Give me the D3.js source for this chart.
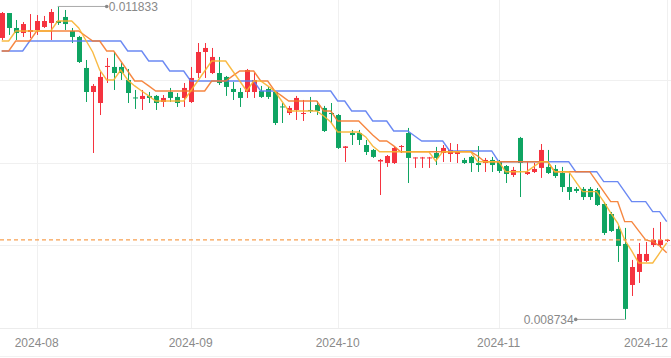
<!DOCTYPE html>
<html><head><meta charset="utf-8">
<script src="https://cdn.jsdelivr.net/npm/d3@7"></script>
<style>html,body{margin:0;padding:0;background:#fff;}svg{display:block;font-family:"Liberation Sans",Arial,sans-serif;}</style>
</head><body><svg id="c" width="671" height="358"></svg>
<script>
const openV=[0.011521,0.011768,0.011620,0.011570,0.011580,0.011600,0.011630,0.011669,0.011689,0.011729,0.011590,0.011531,0.011224,0.010986,0.010877,0.011234,0.011234,0.011234,0.011105,0.010932,0.010917,0.010947,0.010947,0.010887,0.010986,0.010937,0.010927,0.010887,0.011174,0.011382,0.011174,0.011174,0.011135,0.011016,0.010986,0.010986,0.010986,0.010996,0.011016,0.010986,0.010843,0.010778,0.010808,0.010768,0.010808,0.010857,0.010828,0.010778,0.010758,0.010432,0.010580,0.010580,0.010461,0.010412,0.010298,0.010283,0.010283,0.010442,0.010580,0.010328,0.010328,0.010328,0.010382,0.010382,0.010372,0.010372,0.010313,0.010343,0.010283,0.010283,0.010313,0.010293,0.010253,0.010164,0.010531,0.010174,0.010194,0.010234,0.010244,0.010224,0.010184,0.010045,0.010026,0.010026,0.010026,0.010016,0.009877,0.009778,0.009630,0.009481,0.009075,0.009204,0.009313,0.009471,0.009471,0.009511];
const closeV=[0.011768,0.011620,0.011570,0.011659,0.011600,0.011689,0.011689,0.011778,0.011669,0.011659,0.011531,0.011283,0.010986,0.011046,0.011135,0.011244,0.011174,0.011174,0.010976,0.010922,0.010947,0.010927,0.010877,0.010927,0.010927,0.010877,0.011026,0.011125,0.011382,0.011422,0.011333,0.011075,0.011036,0.010986,0.010927,0.011204,0.011105,0.010937,0.010937,0.010679,0.010833,0.010828,0.010927,0.010778,0.010798,0.010798,0.010600,0.010768,0.010432,0.010447,0.010560,0.010511,0.010392,0.010343,0.010313,0.010352,0.010432,0.010451,0.010333,0.010338,0.010338,0.010338,0.010333,0.010432,0.010412,0.010392,0.010283,0.010283,0.010263,0.010313,0.010263,0.010204,0.010174,0.010214,0.010283,0.010194,0.010224,0.010412,0.010184,0.010154,0.010045,0.009996,0.010006,0.009946,0.009946,0.009867,0.009590,0.009610,0.009461,0.008838,0.009253,0.009382,0.009382,0.009521,0.009521,0.009521];
const highV=[0.011778,0.011768,0.011699,0.011679,0.011758,0.011748,0.011739,0.011808,0.011833,0.011798,0.011620,0.011541,0.011303,0.011065,0.011184,0.011323,0.011382,0.011273,0.011214,0.011006,0.011006,0.010986,0.010956,0.010956,0.011026,0.010976,0.011075,0.011234,0.011471,0.011471,0.011422,0.011333,0.011145,0.011085,0.011026,0.011214,0.011174,0.011046,0.011036,0.010996,0.010877,0.010848,0.010947,0.010907,0.010937,0.010897,0.010848,0.010877,0.010768,0.010451,0.010610,0.010610,0.010511,0.010422,0.010323,0.010362,0.010442,0.010461,0.010630,0.010338,0.010343,0.010343,0.010442,0.010461,0.010481,0.010471,0.010333,0.010352,0.010451,0.010333,0.010343,0.010313,0.010263,0.010244,0.010541,0.010293,0.010283,0.010471,0.010412,0.010263,0.010244,0.010184,0.010045,0.010045,0.010045,0.010035,0.009897,0.009798,0.009659,0.009640,0.009323,0.009491,0.009501,0.009640,0.009699,0.009531];
const lowV=[0.011501,0.011551,0.011501,0.011531,0.011521,0.011551,0.011620,0.011501,0.011650,0.011600,0.011471,0.011273,0.010887,0.010382,0.010758,0.011075,0.011006,0.011105,0.010877,0.010818,0.010808,0.010877,0.010808,0.010838,0.010887,0.010838,0.010838,0.010877,0.011125,0.011125,0.011164,0.011055,0.010947,0.010907,0.010838,0.010927,0.010927,0.010927,0.010917,0.010659,0.010679,0.010758,0.010709,0.010699,0.010778,0.010758,0.010590,0.010679,0.010422,0.010293,0.010461,0.010461,0.010362,0.010333,0.009966,0.010244,0.010273,0.010382,0.010085,0.010234,0.010234,0.010234,0.010263,0.010293,0.010293,0.010283,0.010273,0.010194,0.010194,0.010194,0.010194,0.010184,0.010085,0.010144,0.009946,0.010164,0.010184,0.010135,0.010174,0.010135,0.009996,0.009917,0.009986,0.009917,0.009917,0.009857,0.009570,0.009600,0.009303,0.008734,0.008966,0.009095,0.009303,0.009451,0.009442,0.009501];
const blueLine=[0.011392,0.011392,0.011392,0.011392,0.011491,0.011491,0.011491,0.011491,0.011491,0.011491,0.011491,0.011491,0.011491,0.011491,0.011491,0.011491,0.011491,0.011491,0.011392,0.011392,0.011392,0.011293,0.011293,0.011293,0.011194,0.011194,0.011194,0.011095,0.011095,0.011095,0.011095,0.011095,0.011095,0.011095,0.011095,0.011095,0.011095,0.010996,0.010996,0.010996,0.010996,0.010996,0.010996,0.010996,0.010996,0.010996,0.010996,0.010996,0.010897,0.010897,0.010798,0.010798,0.010798,0.010699,0.010699,0.010699,0.010600,0.010600,0.010600,0.010550,0.010501,0.010501,0.010501,0.010501,0.010402,0.010402,0.010402,0.010402,0.010402,0.010402,0.010402,0.010296,0.010296,0.010296,0.010296,0.010296,0.010296,0.010296,0.010296,0.010296,0.010296,0.010296,0.010197,0.010197,0.010197,0.010197,0.010098,0.010098,0.010098,0.009999,0.009900,0.009900,0.009900,0.009801,0.009801,0.009702];
const orangeLine=[0.011392,0.011392,0.011491,0.011491,0.011491,0.011590,0.011590,0.011590,0.011590,0.011590,0.011590,0.011590,0.011541,0.011491,0.011491,0.011392,0.011392,0.011293,0.011194,0.011095,0.011095,0.011046,0.010996,0.010996,0.010996,0.010996,0.010996,0.010996,0.010996,0.010996,0.011095,0.011095,0.011095,0.011145,0.011194,0.011194,0.011194,0.011095,0.011095,0.010996,0.010947,0.010897,0.010897,0.010897,0.010897,0.010897,0.010798,0.010798,0.010699,0.010699,0.010699,0.010699,0.010630,0.010560,0.010501,0.010501,0.010452,0.010395,0.010395,0.010395,0.010395,0.010395,0.010395,0.010395,0.010395,0.010395,0.010395,0.010395,0.010352,0.010296,0.010296,0.010296,0.010296,0.010296,0.010296,0.010296,0.010296,0.010296,0.010296,0.010197,0.010197,0.010197,0.010197,0.010197,0.010197,0.010098,0.009999,0.009900,0.009900,0.009702,0.009702,0.009610,0.009521,0.009504,0.009461,0.009395];
const yellowLine=[0.011491,0.011491,0.011590,0.011590,0.011590,0.011590,0.011590,0.011590,0.011689,0.011689,0.011689,0.011620,0.011501,0.011382,0.011204,0.011105,0.011105,0.011204,0.011105,0.011046,0.010996,0.010947,0.010897,0.010897,0.010897,0.010897,0.010897,0.010996,0.011095,0.011194,0.011293,0.011293,0.011293,0.011194,0.011095,0.010996,0.011095,0.011095,0.011046,0.010996,0.010897,0.010798,0.010798,0.010798,0.010798,0.010798,0.010749,0.010689,0.010590,0.010590,0.010590,0.010590,0.010541,0.010451,0.010395,0.010395,0.010395,0.010395,0.010395,0.010395,0.010395,0.010395,0.010303,0.010395,0.010395,0.010395,0.010395,0.010395,0.010296,0.010296,0.010296,0.010296,0.010197,0.010197,0.010197,0.010197,0.010247,0.010296,0.010296,0.010197,0.010197,0.010197,0.010098,0.009999,0.009999,0.009999,0.009900,0.009788,0.009689,0.009521,0.009412,0.009293,0.009293,0.009293,0.009392,0.009491];
const monthStartIdx=[5,27,48,71,95];
const monthLabels=["2024-08","2024-09","2024-10","2024-11","2024-12"];
const gridValues=[0.011100,0.010283,0.009466];
const yDomain=[0.008649,0.011897];

const W=671, H=358, plotBottom=328;
const n=openV.length;
const svg=d3.select("#c");
const x=d3.scaleBand().domain(d3.range(n)).range([-1.8,-1.8+7*n]).padding(0);
const cx=i=>x(i)+x.bandwidth()/2;
const y=d3.scaleLinear().domain(yDomain).range([plotBottom,0]);

// grid
const g=svg.append("g");
g.selectAll("line.h").data(gridValues).join("line")
 .attr("x1",0).attr("x2",W).attr("y1",d=>Math.round(y(d))+0.5).attr("y2",d=>Math.round(y(d))+0.5)
 .attr("stroke","#f0f0f0").attr("stroke-width",1);
g.selectAll("line.v").data(monthStartIdx).join("line")
 .attr("x1",d=>Math.round(cx(d))+0.5).attr("x2",d=>Math.round(cx(d))+0.5).attr("y1",0).attr("y2",plotBottom)
 .attr("stroke","#f0f0f0").attr("stroke-width",1);
svg.append("line").attr("x1",0).attr("x2",W).attr("y1",plotBottom+0.5).attr("y2",plotBottom+0.5).attr("stroke","#ececec");
svg.append("line").attr("x1",0).attr("x2",W).attr("y1",356.5).attr("y2",356.5).attr("stroke","#f2f2f2");

// candles
const up="#f5333f", down="#0fa462";
const idx=d3.range(n);
const cg=svg.append("g");
cg.selectAll("line.w").data(idx).join("line")
 .attr("x1",i=>Math.round(cx(i))+0.5).attr("x2",i=>Math.round(cx(i))+0.5)
 .attr("y1",i=>y(highV[i])).attr("y2",i=>y(lowV[i]))
 .attr("stroke",i=>closeV[i]>=openV[i]?up:down).attr("stroke-width",1);
cg.selectAll("rect").data(idx).join("rect")
 .attr("x",i=>Math.round(cx(i))-2).attr("width",5)
 .attr("y",i=>y(Math.max(openV[i],closeV[i])))
 .attr("height",i=>Math.max(1,Math.abs(y(openV[i])-y(closeV[i]))))
 .attr("fill",i=>closeV[i]>=openV[i]?up:down);

// lines
const lineGen=d3.line().x((d,i)=>cx(i)).y(d=>y(d));
[[blueLine,"#5b7cf2"],[orangeLine,"#f57a2c"],[yellowLine,"#f8b230"]].forEach(([arr,col])=>{
  svg.append("path").datum(arr).attr("d",lineGen).attr("fill","none").attr("stroke",col).attr("stroke-width",1.4).attr("stroke-opacity",0.9);
});

// last price dashed line
const lastClose=closeV[n-1];
svg.append("line").attr("x1",0).attr("x2",W).attr("y1",y(lastClose)).attr("y2",y(lastClose))
 .attr("stroke","#f8a050").attr("stroke-width",1.2).attr("stroke-dasharray","4,3");

// max / min annotations
const maxI=d3.maxIndex(highV), minI=d3.minIndex(lowV);
const fmt=v=>v.toFixed(6);
const ann=svg.append("g");
{
  const x0=cx(maxI), yy=y(highV[maxI]);
  ann.append("line").attr("x1",x0).attr("x2",x0+49).attr("y1",yy).attr("y2",yy).attr("stroke","#aaa").attr("stroke-width",1);
  ann.append("circle").attr("cx",x0+49).attr("cy",yy).attr("r",1.8).attr("fill","#888");
  ann.append("text").attr("x",x0+51).attr("y",yy).attr("dy","0.36em").attr("font-size",12).attr("fill","#888").text(fmt(highV[maxI]));
}
{
  const x0=cx(minI), yy=y(lowV[minI]);
  ann.append("line").attr("x1",x0).attr("x2",x0-49).attr("y1",yy).attr("y2",yy).attr("stroke","#aaa").attr("stroke-width",1);
  ann.append("circle").attr("cx",x0-49).attr("cy",yy).attr("r",1.8).attr("fill","#888");
  ann.append("text").attr("x",x0-51).attr("y",yy).attr("dy","0.36em").attr("text-anchor","end").attr("font-size",12).attr("fill","#888").text(fmt(lowV[minI]));
}

// x labels
svg.selectAll("text.xl").data(monthStartIdx).join("text")
 .attr("font-size",12).attr("fill","#8a8a8a")
 .attr("x",(d)=>{const c=cx(d); return c+22>W-2? W-3 : c;})
 .attr("text-anchor",(d)=>{const c=cx(d); return c+22>W-2? "end":"middle";})
 .attr("y",347).text((d,k)=>monthLabels[k]);
</script></body></html>
